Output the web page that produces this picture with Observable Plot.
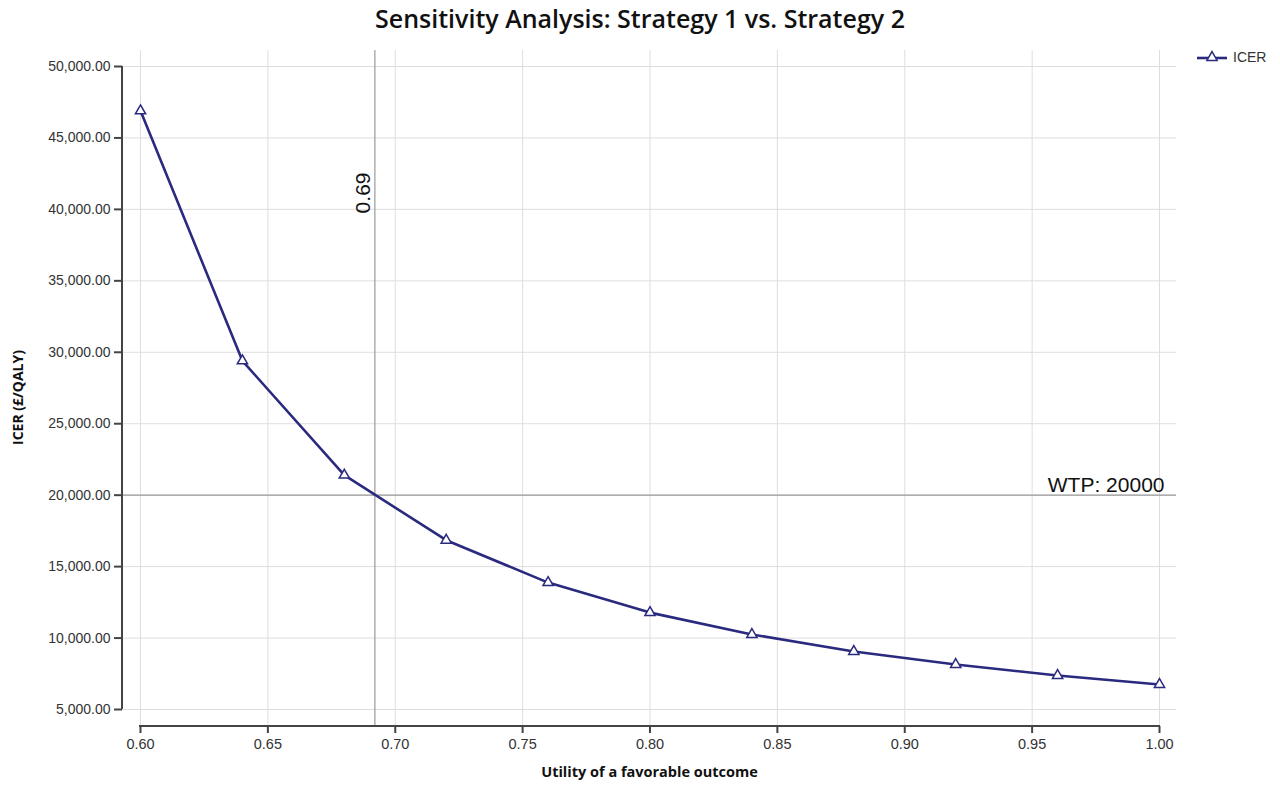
<!DOCTYPE html>
<html><head><meta charset="utf-8">
<script src="https://cdn.jsdelivr.net/npm/d3@7"></script>
<script src="https://cdn.jsdelivr.net/npm/@observablehq/plot@0.6"></script>
<style>
body{margin:0;background:#fff;width:1280px;height:785px;overflow:hidden;position:relative;font-family:"Liberation Sans",Arial,sans-serif;}
#title{height:40px;line-height:37px;text-align:center;font-family:"Open Sans",sans-serif;font-weight:600;font-size:25px;color:#111;white-space:nowrap;}
#legend{position:absolute;left:1197px;top:49px;display:flex;align-items:center;font-size:14px;color:#333;gap:6px;}
#chart svg{display:block;}
</style></head><body>
<div id="title">Sensitivity Analysis: Strategy 1 vs. Strategy 2</div>
<div id="legend"></div>
<div id="chart"></div>
<script>
// Data
const utility = [0.60, 0.64, 0.68, 0.72, 0.76, 0.80, 0.84, 0.88, 0.92, 0.96, 1.00];
const icer = [46900, 29400, 21400, 16850, 13880, 11780, 10250, 9060, 8150, 7380, 6750];
const xTicks = [0.60, 0.65, 0.70, 0.75, 0.80, 0.85, 0.90, 0.95, 1.00];
const yTicks = [5000, 10000, 15000, 20000, 25000, 30000, 35000, 40000, 45000, 50000];
const wtp = 20000;
const threshold = 0.692;
const thresholdLabel = "0.69";
const seriesName = "ICER";
const xLabel = "Utility of a favorable outcome";
const yLabel = "ICER (£/QALY)";

const lineColor = "#2a2a7e";
const axisColor = "#444";
const data = utility.map((u, i) => ({u, v: icer[i]}));

const axisLines = (index, scales, values, dims) => {
  const g = d3.create("svg:g").attr("stroke", axisColor).attr("stroke-width", 2).attr("fill", "none");
  const x0 = dims.marginLeft;
  g.append("line").attr("x1", x0).attr("x2", x0)
    .attr("y1", scales.y(d3.max(yTicks))).attr("y2", scales.y(d3.min(yTicks)));
  const yb = dims.height - dims.marginBottom;
  g.append("line").attr("x1", scales.x(d3.min(xTicks)) - 1).attr("x2", scales.x(d3.max(xTicks)) + 1)
    .attr("y1", yb).attr("y2", yb);
  return g.node();
};

const chart = Plot.plot({
  width: 1280, height: 745,
  marginLeft: 122, marginRight: 104, marginTop: 10, marginBottom: 59,
  style: {fontFamily: "Liberation Sans, Arial, sans-serif", fontSize: "14px", color: "#333", background: "#fff"},
  x: {domain: [0.6, 1.0], insetLeft: 18, insetRight: 17},
  y: {domain: [5000, 50000], insetTop: 16, insetBottom: 17},
  marks: [
    Plot.gridX(xTicks, {stroke: "#dedede", strokeOpacity: 1}),
    Plot.gridY(yTicks, {stroke: "#dedede", strokeOpacity: 1}),
    Plot.ruleX([threshold], {stroke: "#9a9a9a", strokeWidth: 1.2}),
    Plot.ruleY([wtp], {stroke: "#9a9a9a", strokeWidth: 1.2}),
    Plot.axisX(xTicks, {tickFormat: d3.format(".2f"), tickSize: 7, tickPadding: 5, stroke: axisColor, strokeWidth: 2, label: null, fill: "#333", fontSize: 14.5}),
    Plot.axisY(yTicks, {tickFormat: d3.format(",.2f"), tickSize: 8, tickPadding: 4, stroke: axisColor, strokeWidth: 2, label: null, fill: "#333", fontSize: 14}),
    axisLines,
    Plot.text([xLabel], {frameAnchor: "bottom", lineAnchor: "middle", dy: 46, fontFamily: "Open Sans, sans-serif", fontWeight: "bold", fontSize: 14.5, fill: "#111"}),
    Plot.text([yLabel], {frameAnchor: "left", textAnchor: "middle", lineAnchor: "middle", rotate: -90, dx: -104, dy: 9, fontFamily: "Open Sans, sans-serif", fontWeight: "bold", fontSize: 14, fill: "#111"}),
    Plot.text([threshold], {x: d => d, frameAnchor: "top", rotate: -90, textAnchor: "end", lineAnchor: "bottom", dx: -5, dy: 122, text: () => thresholdLabel, fontSize: 21, fill: "#111"}),
    Plot.text([wtp], {y: d => d, frameAnchor: "right", textAnchor: "end", lineAnchor: "bottom", dx: -12, dy: -3, text: d => `WTP: ${d}`, fontSize: 21, fill: "#111"}),
    Plot.line(data, {x: "u", y: "v", stroke: lineColor, strokeWidth: 2.6}),
    Plot.dot(data, {x: "u", y: "v", symbol: "triangle", r: 3.8, fill: "white", stroke: lineColor, strokeWidth: 1.5})
  ]
});
document.getElementById("chart").appendChild(chart);

// Legend
const leg = document.getElementById("legend");
const sw = d3.create("svg").attr("width", 30).attr("height", 14);
sw.append("line").attr("x1", 0).attr("x2", 30).attr("y1", 8).attr("y2", 8).attr("stroke", lineColor).attr("stroke-width", 2.6);
sw.append("path").attr("transform", "translate(15,7.5)").attr("d", d3.symbol(d3.symbolTriangle, Math.PI * 3.8 * 3.8)())
  .attr("fill", "white").attr("stroke", lineColor).attr("stroke-width", 1.5);
leg.appendChild(sw.node());
const lt = document.createElement("span");
lt.textContent = seriesName;
leg.appendChild(lt);
</script>
</body></html>
